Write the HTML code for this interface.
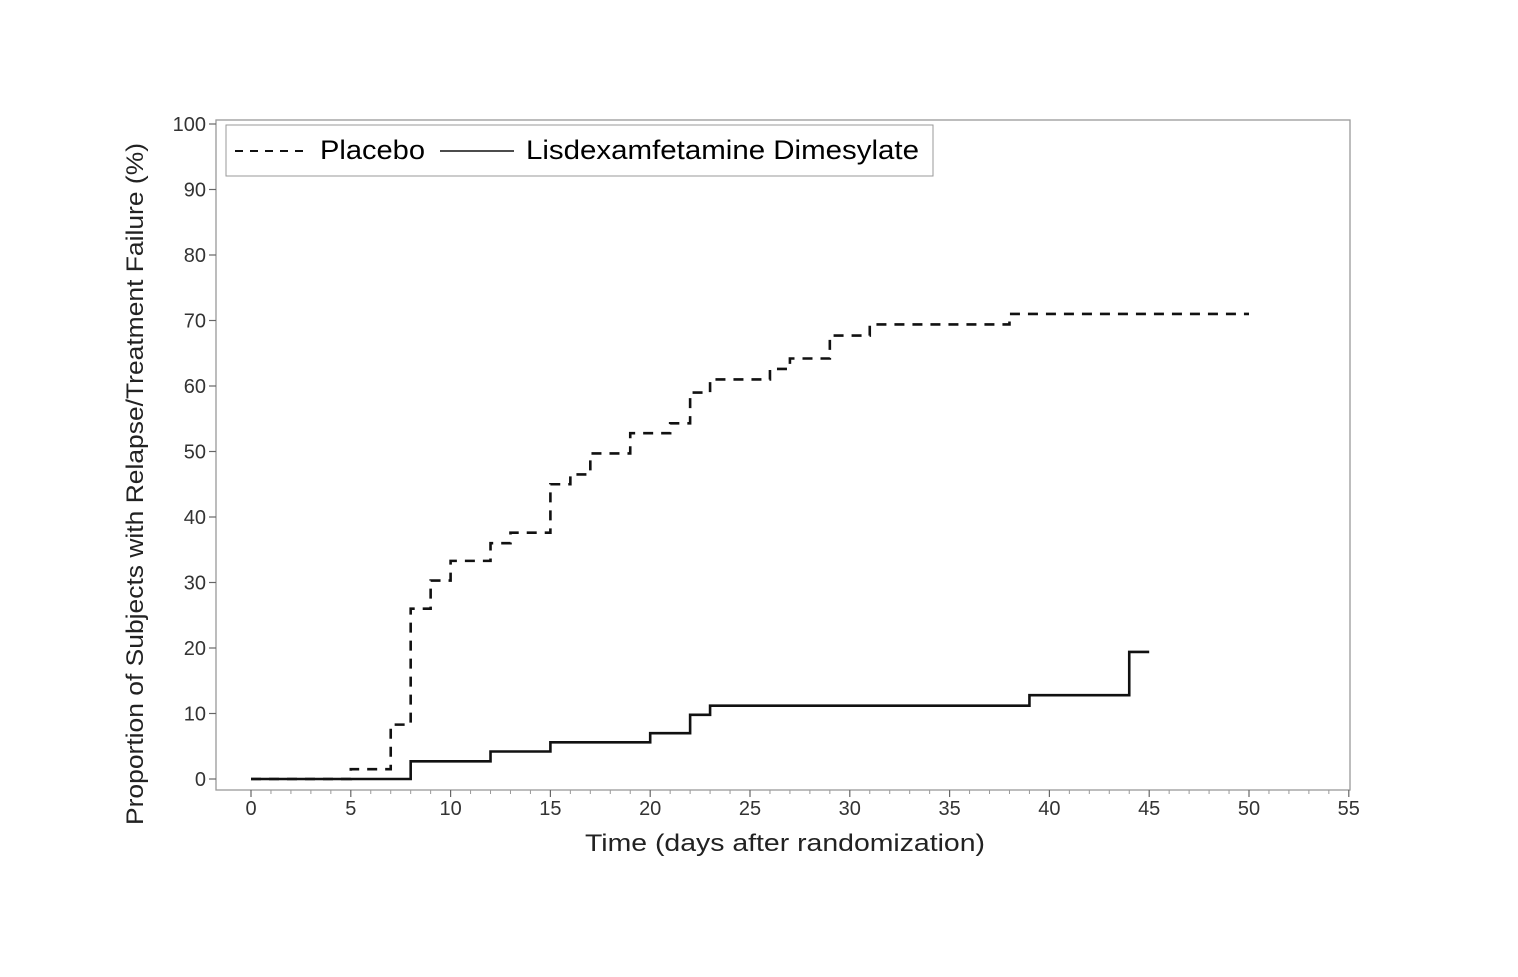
<!DOCTYPE html>
<html><head><meta charset="utf-8"><style>
html,body{margin:0;padding:0;background:#fff;}
svg{display:block;font-family:"Liberation Sans",sans-serif;}
</style></head><body>
<svg id="chart" width="1518" height="977">
<rect x="0" y="0" width="1518" height="977" fill="#fff"/>
<g id="plot"></g>
</svg>
<script>
const xTicks=[0,5,10,15,20,25,30,35,40,45,50,55];
const yTicks=[0,10,20,30,40,50,60,70,80,90,100];
const placeboTimes=[0,5,7,8,9,10,12,13,15,16,17,19,21,22,23,26,27,29,31,38,50];
const placeboValues=[0,1.5,8.3,26,30.3,33.3,36,37.6,45,46.5,49.7,52.8,54.3,59,61,62.6,64.2,67.7,69.4,71,71];
const ldxTimes=[0,8,12,15,20,22,23,39,44,45];
const ldxValues=[0,2.7,4.2,5.6,7,9.8,11.2,12.8,19.4,19.4];

const NS='http://www.w3.org/2000/svg';
const g=document.getElementById('plot');
const X0=251,XS=19.96,Y0=779,YS=6.55;
function sx(v){return X0+v*XS;}
function sy(v){return Y0-v*YS;}
function el(t,a,txt){const e=document.createElementNS(NS,t);for(const k in a)e.setAttribute(k,a[k]);if(txt!==undefined)e.textContent=txt;g.appendChild(e);return e;}

let f=el('rect',{x:216,y:120,width:1134,height:670,fill:'none',stroke:'#999','stroke-width':1.3});



xTicks.forEach(t=>{
  let l=el('line',{x1:sx(t),x2:sx(t),y1:790,y2:797,stroke:'#666','stroke-width':1.2});
  
  
  let tx=el('text',{x:sx(t),y:815,'font-size':20,'text-anchor':'middle',fill:'#333'},t);
  
  
});
for(let t=1;t<55;t++){if(t%5===0)continue;
  let l=el('line',{x1:sx(t),x2:sx(t),y1:790,y2:794,stroke:'#999','stroke-width':1});
  
  
}
yTicks.forEach(t=>{
  let l=el('line',{x1:209,x2:216,y1:sy(t),y2:sy(t),stroke:'#666','stroke-width':1.2});
  
  
  let tx=el('text',{x:206,y:sy(t)+7,'font-size':20,'text-anchor':'end',fill:'#333'},t);
  
  
});

function stepPath(ts,vs){let d='M'+sx(ts[0])+','+sy(vs[0]);for(let i=1;i<ts.length;i++){d+=' H'+sx(ts[i])+' V'+sy(vs[i]);}return d;}
let p1=el('path',{d:stepPath(placeboTimes,placeboValues),fill:'none',stroke:'#111','stroke-width':2.6,'stroke-dasharray':'10,8'});


let p2=el('path',{d:stepPath(ldxTimes,ldxValues),fill:'none',stroke:'#111','stroke-width':2.6});



let xt=el('text',{x:585,y:851,'font-size':24,fill:'#222',textLength:400,lengthAdjust:'spacingAndGlyphs'},'Time (days after randomization)');


let yt=el('text',{x:-825,y:143,'font-size':24,fill:'#222',transform:'rotate(-90)',textLength:682,lengthAdjust:'spacingAndGlyphs'},'Proportion of Subjects with Relapse/Treatment Failure (%)');



let lg=el('rect',{x:226,y:125,width:707,height:51,fill:'#fff',stroke:'#999','stroke-width':1});


let l1=el('line',{x1:235,x2:308,y1:151,y2:151,stroke:'#111','stroke-width':2,'stroke-dasharray':'8,7'});


let t1=el('text',{x:320,y:159,'font-size':27,fill:'#000',textLength:105,lengthAdjust:'spacingAndGlyphs'},'Placebo');


let l2=el('line',{x1:440,x2:514,y1:151,y2:151,stroke:'#111','stroke-width':1.5});


let t2=el('text',{x:526,y:159,'font-size':27,fill:'#000',textLength:393,lengthAdjust:'spacingAndGlyphs'},'Lisdexamfetamine Dimesylate');


</script>
</body></html>
